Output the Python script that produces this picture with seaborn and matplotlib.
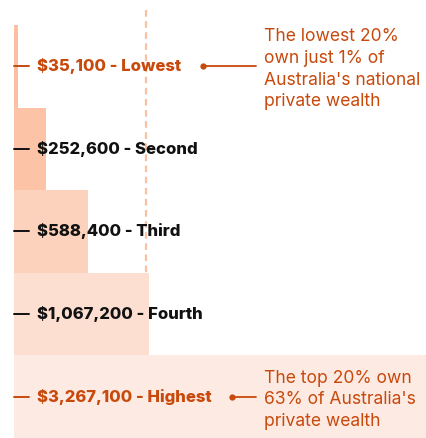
import numpy as np
import matplotlib.pyplot as plt
import seaborn as sns

# wealth by quintile (average household private wealth)
groups = ['Lowest', 'Second', 'Third', 'Fourth', 'Highest']
wealth = [35100, 252600, 588400, 1067200, 3267100]
bar_colors = ['#FBBFA1', '#FCC3A6', '#FDD2BC', '#FDDFD1', '#FDEBE3']
label_colors = ['#C8490C', '#111111', '#111111', '#111111', '#C8490C']

note_rows = [0, 4]
note_texts = ["The lowest 20%\nown just 1% of\nAustralia's national\nprivate wealth",
              "The top 20% own\n63% of Australia's\nprivate wealth"]
note_dot_x = [0.458, 0.528]

ORANGE = '#C8490C'

sns.set_style("white")
plt.rcParams['font.family'] = ['Inter', 'DejaVu Sans']

fig = plt.figure(figsize=(4.27, 4.38), dpi=100)
ax = fig.add_axes([14 / 427, 0, 413 / 427, 1])

sns.barplot(x=wealth, y=groups, hue=groups, palette=bar_colors, order=groups,
            hue_order=groups, width=1, dodge=False, legend=False, saturation=1,
            linewidth=0, edgecolor='none', ax=ax)

bar_px = 413 / 5
ax.set_xlim(0, max(wealth))
ax.set_ylim(4.5, -0.5 - 25 / bar_px)
ax.axis('off')

# dashed line at the average
ax.vlines(np.mean(wealth), -0.5 - 15 / bar_px, 4.5, colors='#FBC0A2',
          linestyles=(0, (3, 2)), linewidth=1.6, zorder=0.5)

tr = ax.get_yaxis_transform()
for i, (g, v) in enumerate(zip(groups, wealth)):
    ax.plot([0, 15 / 413], [i, i], transform=tr, color=label_colors[i],
            lw=1.4, clip_on=False, zorder=3)
    ax.text(23 / 413, i, f"${v:,} - {g}", transform=tr, va='center', ha='left',
            fontsize=12.0, fontweight='heavy', color=label_colors[i], zorder=3)

for row, txt, dx in zip(note_rows, note_texts, note_dot_x):
    ax.plot([dx, 0.585], [row, row], transform=tr, color=ORANGE, lw=1.3, zorder=3)
    ax.plot([dx], [row], 'o', transform=tr, color=ORANGE, ms=3.5, zorder=3)
    ax.text(0.605, row + 3 / bar_px, txt, transform=tr, va='center', ha='left',
            fontsize=12.6, color=ORANGE, linespacing=1.35, zorder=3)

fig.savefig('out.png', dpi=100)
